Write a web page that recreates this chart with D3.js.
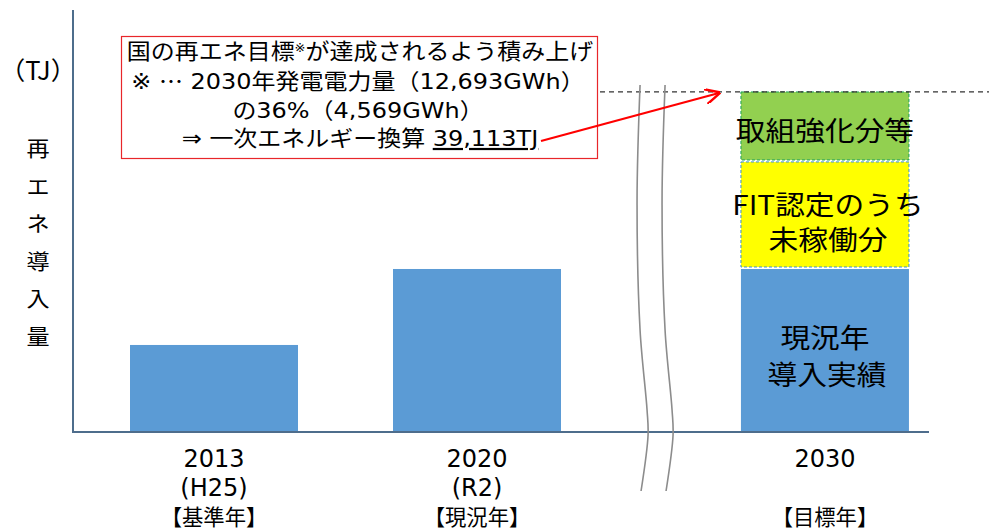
<!DOCTYPE html>
<html>
<head>
<meta charset="utf-8">
<script src="https://cdn.jsdelivr.net/npm/d3@7"></script>
<style>
body { margin: 0; background: #fff; }
text { fill: #000; }
</style>
</head>
<body>
<script>
var W = 989, H = 532;

// categories and values (TJ)
var years = ["2013", "2020", "2030"];
var yearSub = ["(H25)", "(R2)", ""];
var yearTag = ["【基準年】", "【現況年】", "【目標年】"];
var slots = [0, 1, 2.323];
var actual = [10010, 18750, 18750];
var fitPending = [0, 0, 12310];
var extraEffort = [0, 0, 8053];
var target = 39113;
var yLabelChars = ["再", "エ", "ネ", "導", "入", "量"];

var JP = "'Noto Sans CJK JP', sans-serif";
var LAT = "'DejaVu Sans', 'Noto Sans CJK JP', sans-serif";

var svg = d3.select("body")
    .append("svg")
    .attr("width", W)
    .attr("height", H);

var x = d3.scaleLinear().domain([0, 1]).range([214, 477]);
var y = d3.scaleLinear().domain([0, 48540]).range([432, 10]);
var barW = 168;
var axisColor = "#4e6d8c";

var data = years.map(function (d, i) {
    return {year: d, slot: slots[i], a: actual[i], f: fitPending[i], e: extraEffort[i]};
});

// text helper: centred text, horizontally stretched by sx
function stext(cx, cy, str, size, sx, fam) {
    return svg.append("text")
        .attr("transform", "translate(" + cx + "," + cy + ") scale(" + sx + ",1)")
        .attr("text-anchor", "middle")
        .attr("font-family", fam)
        .attr("font-size", size)
        .text(str);
}

// blue bars (actual)
svg.append("g").selectAll("rect")
    .data(data)
    .enter()
    .append("rect")
    .attr("x", function (d) { return x(d.slot) - barW / 2; })
    .attr("y", function (d) { return y(d.a); })
    .attr("width", barW)
    .attr("height", function (d) { return y(0) - y(d.a); })
    .attr("fill", "#5b9bd5");

var last = data[2];
// yellow: FIT pending
svg.append("rect")
    .attr("x", x(last.slot) - barW / 2)
    .attr("y", y(last.a + last.f))
    .attr("width", barW)
    .attr("height", y(last.a) - y(last.a + last.f) - 2)
    .attr("fill", "#ffff00")
    .attr("stroke", "#3a8fd0")
    .attr("stroke-width", 1)
    .attr("stroke-dasharray", "3,2");

// green: extra effort
svg.append("rect")
    .attr("x", x(last.slot) - barW / 2)
    .attr("y", y(last.a + last.f + last.e))
    .attr("width", barW)
    .attr("height", y(last.a + last.f) - y(last.a + last.f + last.e) - 2)
    .attr("fill", "#92d050")
    .attr("stroke", "#1aa05a")
    .attr("stroke-width", 1)
    .attr("stroke-dasharray", "3,2");

// dashed target line
svg.append("line")
    .attr("x1", 600).attr("x2", W)
    .attr("y1", y(target)).attr("y2", y(target))
    .attr("stroke", "#333")
    .attr("stroke-width", 1.2)
    .attr("stroke-dasharray", "5,4");

// axes
svg.append("line")
    .attr("x1", 73).attr("x2", 73)
    .attr("y1", y.range()[1]).attr("y2", y(0))
    .attr("stroke", axisColor).attr("stroke-width", 2);
svg.append("line")
    .attr("x1", 72).attr("x2", 929)
    .attr("y1", y(0)).attr("y2", y(0))
    .attr("stroke", axisColor).attr("stroke-width", 2);

// axis break marks
var brk = 1.62;
var wave = [[0, 85], [-3, 200], [0, 330], [7, 410], [8, 435], [1, 491]];
var bl = d3.line().curve(d3.curveCatmullRom);
[0, 25].forEach(function (off) {
    svg.append("path")
        .attr("d", bl(wave.map(function (p) { return [x(brk) + p[0] + off, p[1]]; })))
        .attr("fill", "none")
        .attr("stroke", "#8c8c8c")
        .attr("stroke-width", 1.6);
});

// bar labels
var cx3 = x(last.slot);
stext(cx3, 141, "取組強化分等", 27, 1.1, JP);
stext(cx3 + 3, 215, "FIT認定のうち", 27, 1.1, JP);
stext(cx3 + 3, 250, "未稼働分", 27, 1.1, JP);
stext(cx3, 348, "現況年", 27, 1.1, JP);
stext(cx3 + 2, 385, "導入実績", 27, 1.1, JP);

// x labels
data.forEach(function (d, i) {
    var cx = x(d.slot);
    stext(cx, 467, d.year, 24, 1, LAT);
    stext(cx, 496, yearSub[i], 24, 1, LAT);
    stext(cx, 525, yearTag[i], 22, 0.97, JP);
});

// y label
stext(38, 80, "（TJ）", 25, 1.02, JP);
svg.append("g").selectAll("text")
    .data(yLabelChars)
    .enter()
    .append("text")
    .attr("transform", function (d, i) { return "translate(38," + (156 + i * 37.6) + ") scale(1.1,1)"; })
    .attr("text-anchor", "middle")
    .attr("font-family", JP)
    .attr("font-size", 21)
    .text(function (d) { return d; });

// annotation box
svg.append("rect")
    .attr("x", 121.5).attr("y", 36.5)
    .attr("width", 476).attr("height", 122)
    .attr("fill", "#fff")
    .attr("stroke", "#e8262a")
    .attr("stroke-width", 1.2);

var bx = 360, bs = 1.09;
var l1 = stext(bx, 59, "", 22, bs, LAT);
l1.append("tspan").text("国の再エネ目標");
l1.append("tspan").attr("font-size", 12).attr("dy", -7).text("※");
l1.append("tspan").attr("dy", 7).text("が達成されるよう積み上げ");
var l2 = stext(bx - 2, 89, "", 22, bs, LAT);
l2.append("tspan").text("※ ");
l2.append("tspan").attr("font-family", JP).text("…");
l2.append("tspan").text(" 2030年発電電力量（12,693GWh）");
stext(bx - 2, 118, "の36%（4,569GWh）", 22, bs, LAT);
var l4 = stext(bx, 146, "", 22, bs, LAT);
l4.append("tspan").text("⇒ 一次エネルギー換算 ");
l4.append("tspan").attr("text-decoration", "underline").text("39,113TJ");

// arrow
svg.append("defs").append("marker")
    .attr("id", "ah")
    .attr("viewBox", "0 0 10 10")
    .attr("refX", 9).attr("refY", 5)
    .attr("markerWidth", 7).attr("markerHeight", 7)
    .attr("orient", "auto")
    .append("path")
    .attr("d", "M0,0 L10,5 L0,10")
    .attr("fill", "none")
    .attr("stroke", "#ff0000")
    .attr("stroke-width", 1.6);
svg.append("line")
    .attr("x1", 541).attr("y1", 141)
    .attr("x2", 719).attr("y2", y(target) + 1)
    .attr("stroke", "#ff0000")
    .attr("stroke-width", 2.2)
    .attr("marker-end", "url(#ah)");
</script>
</body>
</html>
